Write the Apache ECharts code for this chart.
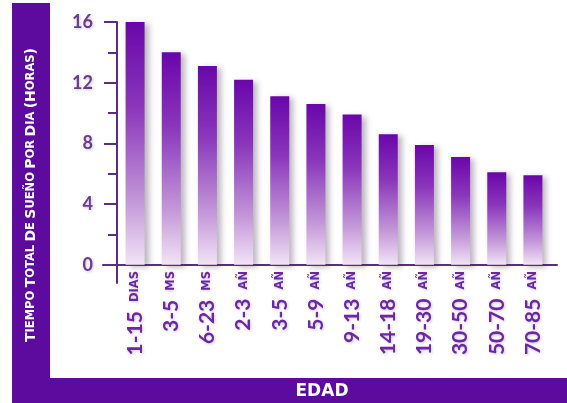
<!DOCTYPE html>
<html>
<head>
<meta charset="utf-8">
<script src="https://cdn.jsdelivr.net/npm/echarts@6/dist/echarts.min.js"></script>
<style>
html,body{margin:0;padding:0;background:#fff;}
#c{width:567px;height:403px;}
</style>
</head>
<body>
<div id="c"></div>
<script>
const ageRanges = ['1-15','3-5','6-23','2-3','3-5','5-9','9-13','14-18','19-30','30-50','50-70','70-85'];
const ageUnits = ['DIAS','MS','MS','AÑ','AÑ','AÑ','AÑ','AÑ','AÑ','AÑ','AÑ','AÑ'];
const sleepHours = [16, 14, 13.1, 12.2, 11.1, 10.6, 9.9, 8.6, 7.9, 7.1, 6.1, 5.9];
const yMajorTicks = [0, 4, 8, 12, 16];
const yMinorTicks = [2, 6, 10, 14];
const categories = ageRanges.map((r, i) => r + ' ' + ageUnits[i]);

const band = '#5d0b9f';
const axisCol = '#5a2d82';
const labelShadow = { textShadowColor: 'rgba(120,80,150,0.35)', textShadowBlur: 3, textShadowOffsetX: 1, textShadowOffsetY: 1 };

const chart = echarts.init(document.getElementById('c'));
chart.setOption({
  backgroundColor: '#ffffff',
  animation: false,
  graphic: [
    { type: 'rect', z: 0, shape: { x: 12, y: 3, width: 38, height: 400 }, style: { fill: band } },
    { type: 'rect', z: 0, shape: { x: 12, y: 378, width: 555, height: 25 }, style: { fill: band } },
    {
      type: 'text', z: 10, x: 31, y: 195, rotation: Math.PI / 2,
      style: {
        text: '{b|T}{s|IEMPO} {b|T}{s|OTAL} {b|D}{s|E} {b|S}{s|UEÑO} {b|P}{s|OR} {b|D}{s|IA} {b|(H}{s|ORAS}{b|)}',
        align: 'center', verticalAlign: 'middle', fill: '#fff',
        rich: {
          b: { fontFamily: 'DejaVu Sans', fontWeight: 'bold', fontSize: 14, fill: '#fff' },
          s: { fontFamily: 'DejaVu Sans', fontWeight: 'bold', fontSize: 11.5, fill: '#fff' }
        }
      }
    },
    {
      type: 'text', z: 10, x: 322, y: 392,
      style: { text: 'EDAD', align: 'center', verticalAlign: 'middle', fill: '#fff',
        font: 'bold 17px "DejaVu Sans"' }
    }
  ],
  grid: [
    { left: 117, right: 16, top: 22, bottom: 120 },
    { left: 103, right: 10, top: 22, bottom: 120 }
  ],
  xAxis: [
    {
      type: 'category', gridIndex: 0, data: categories,
      axisLine: { show: true, lineStyle: { color: axisCol, width: 2 } },
      axisTick: { show: false },
      axisLabel: Object.assign({
        rotate: 90, margin: -12, interval: 0,
        formatter: v => { const p = v.split(' '); return '{n|' + p[0] + '}{u|' + p[1] + '}'; },
        rich: {
          n: { fontFamily: 'Lato', fontWeight: 'bold', fontSize: 21, color: '#6a28a2' },
          u: { fontFamily: 'DejaVu Sans', fontWeight: 'bold', fontSize: 11.5, color: '#6a28a2', padding: [0, 0, 0, 9] }
        }
      }, labelShadow)
    },
    {
      type: 'category', gridIndex: 1, data: [''],
      axisLine: { show: true, lineStyle: { color: axisCol, width: 2 } },
      axisTick: { show: false }, axisLabel: { show: false }
    }
  ],
  yAxis: [
    {
      type: 'value', gridIndex: 0, position: 'left', min: -1.2, max: 16,
      axisLine: { show: true, lineStyle: { color: axisCol, width: 2 } },
      axisTick: { show: true, customValues: yMajorTicks, length: 13, lineStyle: { color: axisCol, width: 2 } },
      axisLabel: Object.assign({
        customValues: yMajorTicks, margin: 24,
        fontFamily: 'Lato', fontWeight: 'bold', fontSize: 18, color: '#6a3c8e'
      }, labelShadow),
      splitLine: { show: false }
    },
    {
      type: 'value', gridIndex: 0, position: 'left', offset: 0, min: -1.2, max: 16,
      axisLine: { show: false },
      axisTick: { show: true, customValues: yMinorTicks, length: 9, lineStyle: { color: axisCol, width: 2 } },
      axisLabel: { show: false },
      splitLine: { show: false }
    },
    {
      type: 'value', gridIndex: 1, min: -1.2, max: 16, show: false
    }
  ],
  series: [
    {
      type: 'bar', xAxisIndex: 0, yAxisIndex: 0, data: sleepHours, barWidth: 19,
      itemStyle: {
        color: new echarts.graphic.LinearGradient(0, 0, 0, 1, [
          { offset: 0, color: '#6a06aa' },
          { offset: 0.35, color: '#8a36bb' },
          { offset: 0.75, color: '#c59ad9' },
          { offset: 1, color: '#f1e4f6' }
        ], false),
        shadowColor: 'rgba(60,40,70,0.35)', shadowBlur: 6, shadowOffsetX: 4, shadowOffsetY: 2
      }
    }
  ]
});
</script>
</body>
</html>
